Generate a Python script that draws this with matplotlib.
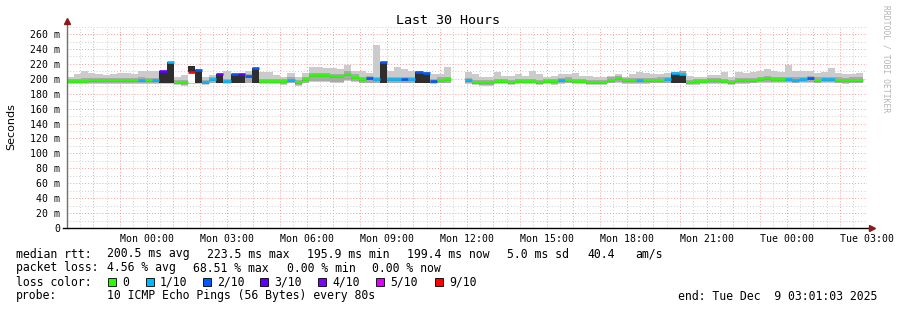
import numpy as np
import matplotlib
matplotlib.use('Agg')
import matplotlib.pyplot as plt
from matplotlib.patches import Rectangle

nan = np.nan

# smokeping data, one value per 16 min bin, starting Sun 21:01 (hours rel. to Mon 00:00)
median = [
  197, 197, 197.5, 198, 198, 198, 198, 198, 198, 198,
  199, 198, 198, 210, 222, 196, 195.5, 209, 212, 196,
  200, 206, 197, 206, 206, 204, 214, 197, 197, 197,
  196.5, 199, 195.5, 200, 205, 205, 205, 203.5, 203.5, 207,
  203, 200, 201, 200, 222, 200, 200, 200, 200, 209,
  208, 197, 199, 200, nan, nan, 198, 196, 195.5, 195.5,
  197, 197, 196, 197, 197, 197, 196, 197, 196.5, 198,
  199, 197, 197, 196, 196, 196, 199, 200.5, 198, 198,
  198, 198, 198.5, 199, 200, 208, 207, 196, 196.5, 197,
  198, 198, 197, 196, 198, 198, 198.5, 200, 200.5, 200,
  200, 200, 199, 200, 201, 199, 200, 200, 199, 198.5,
  199, 199]

loss = [
  0, 0, 0, 0, 0, 0, 0, 0, 0, 0,
  1, 0, 1, 3, 1, 0, 0, 6, 2, 1,
  1, 3, 1, 2, 3, 2, 2, 0, 0, 0,
  0, 1, 0, 0, 0, 0, 0, 0, 0, 0,
  0, 0, 2, 1, 2, 1, 1, 2, 1, 2,
  2, 2, 0, 0, 0, 0, 1, 0, 0, 0,
  0, 0, 0, 0, 0, 0, 0, 0, 0, 1,
  0, 0, 0, 0, 0, 0, 0, 0, 0, 0,
  1, 0, 0, 0, 1, 1, 1, 0, 0, 0,
  0, 0, 0, 0, 0, 0, 0, 0, 0, 0,
  0, 1, 1, 1, 2, 0, 1, 1, 0, 0,
  0, 0]

smoke_hi = [
  202, 207, 210, 208, 206, 205, 206, 208, 208, 206,
  210, 210, 210, 211, 223, 203, 205, 217, 213, 203,
  205, 207, 210, 207, 207, 210, 215, 209, 209, 205,
  203, 208, 203, 208, 216, 216, 215, 214, 213, 218,
  210, 211, 208, 245, 223, 211, 216, 213, 210, 210,
  209, 207, 206, 216, nan, nan, 209, 206, 203, 202,
  209, 204, 204, 206, 204, 211, 206, 202, 204, 207,
  207, 208, 204, 204, 202, 203, 204, 207, 202, 207,
  209, 208, 207, 207, 208, 209, 210, 204, 202, 202,
  205, 205, 209, 202, 209, 208, 209, 210, 213, 210,
  209, 218, 210, 210, 211, 208, 209, 214, 208, 206,
  206, 208]

smoke_lo = [
  193, 193, 193, 193, 193, 193, 193, 193, 193, 193,
  193, 193, 193, 193, 193, 192, 191, 193, 193, 192,
  194, 194, 193, 194, 194, 194, 194, 193, 193, 193,
  192, 194, 191, 194, 196, 196, 196, 195, 195, 197,
  196, 194, 194, 194, 194, 194, 194, 194, 194, 195,
  195, 193, 194, 194, nan, nan, 193, 192, 191, 191,
  193, 193, 192, 193, 193, 193, 192, 193, 192, 193,
  194, 193, 193, 192, 192, 192, 194, 195, 193, 193,
  193, 193, 194, 194, 194, 194, 194, 192, 192, 193,
  193, 193, 193, 192, 193, 193, 194, 195, 195, 195,
  195, 195, 194, 195, 195, 194, 195, 195, 194, 193,
  194, 194]

dark_bins = [13, 14, 18, 21, 23, 24, 26, 44, 49, 50, 85, 86]

loss_labels = ['0', '1/10', '2/10', '3/10', '4/10', '5/10', '9/10']
loss_colors = ['#26ff00', '#00b8ff', '#0059ff', '#5e00ff', '#7e00ff', '#dd00ff', '#ff0000']

tick_hours = [0, 3, 6, 9, 12, 15, 18, 21, 24, 27]
tick_labels = ['Mon 00:00', 'Mon 03:00', 'Mon 06:00', 'Mon 09:00', 'Mon 12:00',
               'Mon 15:00', 'Mon 18:00', 'Mon 21:00', 'Tue 00:00', 'Tue 03:00']
y_ticks = list(range(0, 261, 20))
y_labels = ['0'] + ['%d m' % v for v in y_ticks[1:]]

t_start, t_end = -2.9825, 27.0175
dt = 16 / 60.0

W, H = 897, 310
MONO = 'DejaVu Sans Mono'
plt.rcParams['font.family'] = MONO

fig = plt.figure(figsize=(W / 100, H / 100), dpi=100)
fig.patch.set_facecolor('white')
ax = fig.add_axes([67 / W, 1 - 228 / H, 800 / W, (228 - 26.6) / H])

def fx(x):
  return x / W

def fy(y):
  return 1 - y / H

m = np.array(median, dtype=float)
hi = np.array(smoke_hi, dtype=float)
lo = np.array(smoke_lo, dtype=float)
t = t_start + np.arange(len(m)) * dt
ok = ~np.isnan(m)

# grid
for h in np.arange(-2.5, 27.01, 0.5):
  red = abs(h - round(h)) < 1e-6
  ax.axvline(h, color='#f4a0a0' if red else '#cfcfcf', lw=0.7,
             ls=(0, (1, 2)), zorder=1 if red else 0.5)
for v in range(10, 271, 10):
  red = v % 20 == 0
  ax.axhline(v, color='#f4a0a0' if red else '#cfcfcf', lw=0.7,
             ls=(0, (1, 2)), zorder=1 if red else 0.5)

# smoke
ax.bar(t[ok], hi[ok] - lo[ok], bottom=lo[ok], width=dt, align='edge',
       color='#cbcbcb', linewidth=0, zorder=2)
mid_top = np.minimum(hi, m + 3)
ax.bar(t[ok], mid_top[ok] - lo[ok] - 1, bottom=lo[ok] + 1, width=dt, align='edge',
       color='#a9a9a9', linewidth=0, zorder=2.1)
ax.bar(t[ok], np.full(ok.sum(), 1.3), bottom=m[ok] - 2.6, width=dt, align='edge',
       color='#7a7a7a', linewidth=0, zorder=2.2)

for i in dark_bins:
  ax.bar(t[i], m[i] - 195, bottom=195, width=dt, align='edge',
         color='#2e2e2e', linewidth=0, zorder=3)

# 9/10 loss bin: only one ping came back
for i in range(len(m)):
  if loss[i] == 6:
    ax.bar(t[i], m[i] - 194, bottom=194, width=dt, align='edge',
           color='white', linewidth=0, zorder=3)
    ax.bar(t[i], hi[i] - m[i], bottom=m[i], width=dt, align='edge',
           color='#2e2e2e', linewidth=0, zorder=3)

# median line coloured by loss
cols = [loss_colors[loss[i]] for i in range(len(m)) if ok[i]]
ax.hlines(m[ok], t[ok], t[ok] + dt, colors=cols, linewidth=1.9, zorder=5)

ax.set_xlim(t_start, t_end)
ax.set_ylim(0, 270)
for s in ax.spines.values():
  s.set_visible(False)
ax.set_xticks(tick_hours)
ax.set_xticklabels(tick_labels, fontsize=7.1)
ax.set_yticks(y_ticks)
ax.set_yticklabels(y_labels, fontsize=7.1)
ax.tick_params(axis='x', length=0, pad=4)
ax.tick_params(axis='y', length=0, pad=5)

# axes with arrows
ax.plot([0, 0], [0, 1.03], color='#707070', lw=1, transform=ax.transAxes, clip_on=False, zorder=6)
ax.plot([-0.005, 1.006], [0, 0], color='black', lw=1, transform=ax.transAxes, clip_on=False, zorder=6)
ax.plot([0], [1.03], marker='^', ms=4, color='#8b1a1a', transform=ax.transAxes, clip_on=False, zorder=7)
ax.plot([1.006], [0], marker='>', ms=4, color='#8b1a1a', transform=ax.transAxes, clip_on=False, zorder=7)

fig.text(fx(448), fy(20), 'Last 30 Hours', ha='center', va='center', fontsize=9.6)
fig.text(fx(11), fy(127), 'Seconds', rotation=90, ha='center', va='center',
         fontsize=8, family='DejaVu Sans')
fig.text(fx(886), fy(5), 'RRDTOOL / TOBI OETIKER', rotation=270, ha='center', va='top',
         fontsize=5.8, color='#b4b4b4')

# legend
fs = 8.3
rows = [
  (254, [('median rtt:', 16), ('200.5 ms avg', 107), ('223.5 ms max', 207),
         ('195.9 ms min', 307), ('199.4 ms now', 407), ('5.0 ms sd', 507),
         ('40.4', 587), ('am/s', 635)]),
  (268, [('packet loss:', 16), ('4.56 % avg', 107), ('68.51 % max', 193),
         ('0.00 % min', 287), ('0.00 % now', 372)]),
  (282, [('loss color:', 16)]),
  (296, [('probe:', 16), ('10 ICMP Echo Pings (56 Bytes) every 80s', 107),
         ('end: Tue Dec  9 03:01:03 2025', 678)]),
]
for y, items in rows:
  for s, x in items:
    fig.text(fx(x), fy(y), s, ha='left', va='center', fontsize=fs)

sq_x = [108, 146, 203, 260, 318, 376, 435]
for k, lab in enumerate(loss_labels):
  x = sq_x[k]
  fig.patches.append(Rectangle((fx(x), fy(286)), 8 / W, 8 / H, transform=fig.transFigure,
                               facecolor=loss_colors[k], edgecolor='black', lw=0.6))
  fig.text(fx(x + 14), fy(282), lab, ha='left', va='center', fontsize=fs)

fig.savefig('out.png', dpi=100)
